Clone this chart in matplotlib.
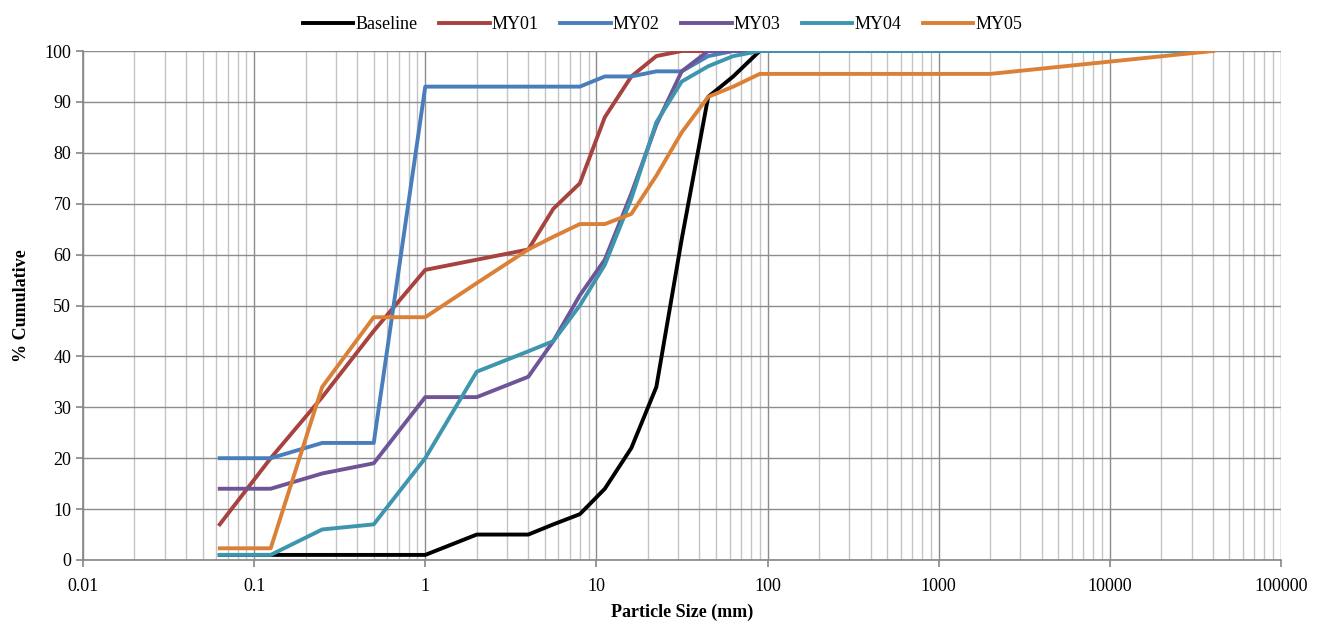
import matplotlib
matplotlib.use("Agg")
import matplotlib.pyplot as plt
from matplotlib.ticker import FixedLocator, LogLocator, NullFormatter, FixedFormatter

plt.rcParams['font.family'] = ['Liberation Serif', 'DejaVu Serif']

# sieve sizes (mm)
sizes = [0.063, 0.125, 0.25, 0.5, 1, 2, 4, 5.6, 8, 11.2, 16, 22.4, 31.5, 45, 63, 90, 2000, 40000]

baseline = [1, 1, 1, 1, 1, 5, 5, 7, 9, 14, 22, 34, 63, 91, 95, 100, 100, 100]
my01 = [7, 20, 32, 45, 57, 59, 61, 69, 74, 87, 95, 99, 100, 100, 100, 100, 100, 100]
my02 = [20, 20, 23, 23, 93, 93, 93, 93, 93, 95, 95, 96, 96, 99, 100, 100, 100, 100]
my03 = [14, 14, 17, 19, 32, 32, 36, 43, 52, 59, 72, 85.5, 96, 100, 100, 100, 100, 100]
my04 = [1, 1, 6, 7, 20, 37, 41, 43, 50, 58, 71, 86, 94, 97, 99, 100, 100, 100]
my05 = [2.3, 2.3, 34, 47.7, 47.7, 54.4, 61, 63.5, 66, 66, 68, 75.5, 84, 91, 93, 95.5, 95.5, 100]

names = ["Baseline", "MY01", "MY02", "MY03", "MY04", "MY05"]
colors = ["#000000", "#A8423F", "#4A7EBB", "#6F5597", "#3D96AE", "#DA8137"]
series = [baseline, my01, my02, my03, my04, my05]

x_ticks = [0.01, 0.1, 1, 10, 100, 1000, 10000, 100000]
x_tick_labels = ["0.01", "0.1", "1", "10", "100", "1000", "10000", "100000"]

fig = plt.figure(figsize=(13.25, 6.25), dpi=100)
ax = fig.add_axes([0.0626, 0.104, 0.9042, 0.8144])

for name, col, vals in zip(names, colors, series):
    ax.plot(sizes, vals, color=col, lw=2.8, label=name, solid_joinstyle='round')

ax.set_xscale('log')
ax.set_xlim(0.01, 100000)
ax.set_ylim(0, 100)
ax.xaxis.set_major_locator(FixedLocator(x_ticks))
ax.xaxis.set_major_formatter(FixedFormatter(x_tick_labels))
ax.xaxis.set_minor_locator(LogLocator(base=10, subs=range(2, 10), numticks=100))
ax.xaxis.set_minor_formatter(NullFormatter())
ax.set_yticks(range(0, 101, 10))

ax.grid(True, which='major', color='#8c8c8c', lw=1.0)
ax.grid(True, which='minor', axis='x', color='#c4c4c4', lw=1.0)
ax.set_axisbelow(True)

for s in ['top', 'right']:
    ax.spines[s].set_visible(False)
for s in ['left', 'bottom']:
    ax.spines[s].set_color('#868686')
    ax.spines[s].set_linewidth(1.2)

ax.tick_params(axis='both', which='major', labelsize=13, color='#868686', length=5, width=1.2)
ax.tick_params(axis='x', which='minor', length=0)
ax.tick_params(axis='x', pad=8)

ax.set_xlabel("Particle Size (mm)", fontsize=13, fontweight='bold', labelpad=6)
ax.set_ylabel("% Cumulative", fontsize=13, fontweight='bold', labelpad=10)

fig.legend(loc='upper center', bbox_to_anchor=(0.5, 1.0), ncol=6, frameon=False,
           fontsize=13, handlelength=2.8, columnspacing=1.2, handletextpad=0.1)

fig.savefig("out.png", dpi=100)
